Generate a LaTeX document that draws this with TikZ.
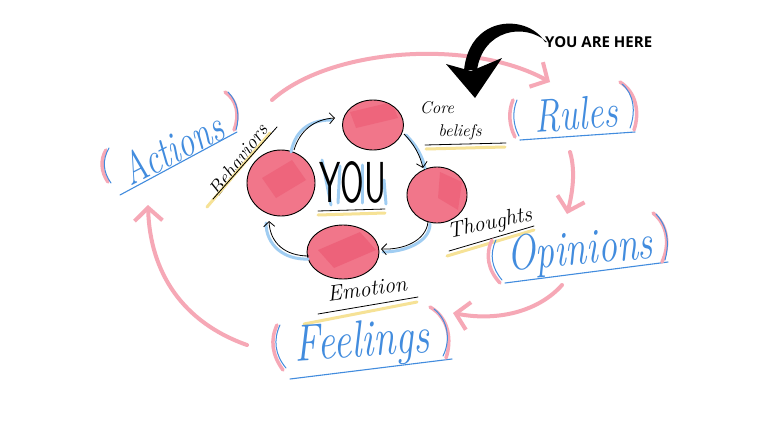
\documentclass[tikz,border=0pt]{standalone}
\usepackage{fontspec}
\newfontfamily\headfont{Open Sans}
\usetikzlibrary{arrows.meta,shapes.geometric}
\definecolor{pinkfill}{RGB}{241,118,138}
\definecolor{pinkdark}{RGB}{232,62,94}
\definecolor{pinkline}{RGB}{246,168,182}
\definecolor{bluehand}{RGB}{66,140,222}
\definecolor{bluelite}{RGB}{160,205,242}
\definecolor{yellowhl}{RGB}{246,226,150}
\begin{document}
\begin{tikzpicture}[x=1pt,y=-1pt,
  ball/.style={ellipse, draw=black, line width=0.9pt, fill=pinkfill, inner sep=0pt},
  pinkarrow/.style={draw=pinkline, line width=4pt, line cap=round, -{Straight Barb[length=13pt,width=28pt,line width=4pt]}},
  innerarrow/.style={draw=black, line width=0.8pt, -{Straight Barb[length=5pt,width=11pt]}},
  glow/.style={draw=bluelite, line width=3pt, line cap=round},
  hl/.style={draw=yellowhl, line width=3pt, line cap=round},
  ul/.style={draw=black, line width=0.8pt, line cap=round},
  bul/.style={draw=bluehand, line width=1.1pt, line cap=round},
  parpink/.style={draw=pinkline, line width=3.5pt, line cap=round},
  parblue/.style={draw=bluehand, line width=1pt, line cap=round},
  bluetext/.style={text=bluehand, inner sep=0pt},
  blacktext/.style={text=black, inner sep=0pt, font=\fontsize{20}{20}\selectfont\itshape}]
\useasboundingbox[fill=white] (0,0) rectangle (768,431);

% ---- circles ----
\node[ball, minimum width=61pt, minimum height=50pt] (core) at (373,125) {};
\node[ball, minimum width=60pt, minimum height=56pt] (thought) at (437,195) {};
\node[ball, minimum width=72pt, minimum height=54pt] (emotion) at (343,252) {};
\node[ball, minimum width=68pt, minimum height=66pt] (behav) at (281,183) {};

% darker patches
\begin{scope}
  \clip (373,125) ellipse [x radius=29pt, y radius=24pt];
  \fill[pinkdark, opacity=0.3] (350,112) -- (392,102) -- (398,118) -- (356,128) -- cycle;
\end{scope}
\begin{scope}
  \clip (437,195) ellipse [x radius=29pt, y radius=27pt];
  \fill[pinkdark, opacity=0.3] (440,172) -- (462,182) -- (458,210) -- (438,198) -- cycle;
\end{scope}
\begin{scope}
  \clip (343,252) ellipse [x radius=35pt, y radius=26pt];
  \fill[pinkdark, opacity=0.35] (318,250) -- (360,232) -- (376,250) -- (334,268) -- cycle;
\end{scope}
\begin{scope}
  \clip (281,183) ellipse [x radius=33pt, y radius=32pt];
  \fill[pinkdark, opacity=0.3] (262,178) -- (292,160) -- (306,180) -- (276,198) -- cycle;
\end{scope}

% ---- inner arrows ----
\coordinate (a1s) at (294,150);
\coordinate (a1e) at (335,118);
\coordinate (a2s) at (404,134);
\coordinate (a2e) at (423,168);
\coordinate (a3s) at (428,222);
\coordinate (a3e) at (381,249);
\coordinate (a4s) at (309,256);
\coordinate (a4e) at (269,221);
\draw[glow] ([shift={(-3,2)}]a1s) .. controls (296,128) and (312,120) .. ([shift={(-4,2)}]a1e);
\draw[innerarrow] (a1s) .. controls (300,130) and (315,119) .. (a1e);
\draw[glow] ([shift={(2,1)}]a2s) .. controls (416,145) and (422,155) .. ([shift={(2,0)}]a2e);
\draw[innerarrow] (a2s) .. controls (414,144) and (420,155) .. (a2e);
\draw[glow] ([shift={(2,2)}]a3s) .. controls (430,242) and (405,252) .. ([shift={(2,3)}]a3e);
\draw[innerarrow] (a3s) .. controls (426,240) and (405,250) .. (a3e);
\draw[glow] ([shift={(-1,3)}]a4s) .. controls (284,260) and (266,245) .. ([shift={(-3,2)}]a4e);
\draw[innerarrow] (a4s) .. controls (285,256) and (270,243) .. (a4e);

% ---- YOU ----
\draw[glow] (322,160) -- (331,205);
\draw[glow] (340,166) -- (338,203);
\draw[glow] (362,165) -- (362,203);
\draw[glow] (384,180) -- (386,204);
\node[text=black, inner sep=0pt] (you) at (353,182) {\scalebox{1}[1.7]{\fontsize{34}{34}\selectfont\sffamily YOU}};
\draw[hl] (318,215) -- (385,213);
\draw[ul] (318,211) -- (385,209);

% ---- black labels ----
\node[blacktext, rotate=53] (behavlabel) at (238,160) {Behaviors};
\draw[hl] (207,207) -- (270,133);
\draw[ul] (213,199) -- (277,127);

\node[blacktext, font=\fontsize{17}{17}\selectfont\itshape] (corelabel) at (437,108) {Core};
\node[blacktext, font=\fontsize{17}{17}\selectfont\itshape] (belieflabel) at (460,132) {beliefs};
\draw[hl] (426,149) -- (505,147);
\draw[ul] (425,145) -- (506,143);

\node[blacktext, font=\fontsize{22}{22}\selectfont\itshape, rotate=12] (thoughtlabel) at (490,224) {Thoughts};
\draw[hl] (447,256) -- (534,230);
\draw[ul] (449,251) -- (534,226);

\node[blacktext, font=\fontsize{22}{22}\selectfont\itshape, rotate=8] (emotionlabel) at (367,289) {Emotion};
\draw[hl] (304,324) -- (417,302);
\draw[ul] (318,314) -- (418,297);

% ---- outer blue labels ----
\node[bluetext, rotate=27] (actions) at (172,148) {\scalebox{1}[1.3]{\fontsize{34}{34}\selectfont\itshape Actions}};
\draw[bul] (120,195) -- (237,132);
\draw[parpink] (106,150) .. controls (100,160) and (101,172) .. (108,182);
\draw[parblue] (109,148) .. controls (102,160) and (103,172) .. (111,183);
\draw[parpink] (225,92) .. controls (237,100) and (240,115) .. (234,130);
\draw[parblue] (228,92) .. controls (238,102) and (240,116) .. (236,130);

\node[bluetext, rotate=4] (rules) at (576,114) {\scalebox{1}[1.3]{\fontsize{36}{36}\selectfont\itshape Rules}};
\draw[bul] (520,140) -- (635,132);
\draw[parpink] (513,100) .. controls (508,112) and (509,125) .. (515,137);
\draw[parblue] (517,100) .. controls (512,112) and (513,125) .. (519,136);
\draw[parpink] (620,82) .. controls (636,92) and (640,112) .. (634,130);
\draw[parblue] (622,84) .. controls (634,94) and (636,112) .. (630,128);

\node[bluetext, rotate=5] (opinions) at (580,252) {\scalebox{1}[1.3]{\fontsize{38}{38}\selectfont\itshape Opinions}};
\draw[bul] (505,283) -- (668,262);
\draw[parpink] (492,240) .. controls (485,255) and (488,270) .. (500,283);
\draw[parblue] (496,240) .. controls (489,255) and (492,268) .. (502,280);
\draw[parpink] (653,213) .. controls (668,225) and (670,245) .. (662,262);
\draw[parblue] (656,214) .. controls (669,228) and (669,246) .. (665,260);

\node[bluetext, rotate=4] (feelings) at (362,344) {\scalebox{1}[1.3]{\fontsize{40}{40}\selectfont\itshape Feelings}};
\draw[bul] (290,379) -- (452,359);
\draw[parpink] (277,325) .. controls (270,340) and (272,355) .. (283,370);
\draw[parblue] (280,325) .. controls (273,340) and (275,355) .. (286,368);
\draw[parpink] (430,307) .. controls (449,318) and (452,340) .. (446,358);
\draw[parblue] (434,309) .. controls (448,320) and (451,340) .. (443,356);

% ---- outer pink arrows ----
\coordinate (p1s) at (272,100);
\coordinate (p1e) at (550,82);
\coordinate (p2s) at (570,152);
\coordinate (p2e) at (567,214);
\coordinate (p3s) at (562,285);
\coordinate (p3e) at (453,313);
\coordinate (p4s) at (247,345);
\coordinate (p4e) at (148,205);
\draw[pinkarrow] (p1s) .. controls (330,48) and (470,38) .. (p1e);
\draw[pinkarrow] (p2s) .. controls (576,172) and (572,195) .. (p2e);
\draw[pinkarrow] (p3s) .. controls (540,310) and (500,322) .. (p3e);
\draw[pinkarrow] (p4s) .. controls (182,322) and (150,272) .. (p4e);

% ---- YOU ARE HERE ----
\node[inner sep=0pt, anchor=west] (here) at (545,42) {\headfont\bfseries\fontsize{15}{15}\selectfont YOU ARE HERE};
\fill[black] (here.west) .. controls (528,14) and (470,14) .. (464,70)
  -- (477,70) .. controls (483,30) and (524,22) .. ([xshift=2pt]here.west) -- cycle;
\fill[black] (446,64) -- (475,98) -- (502,58) -- (471,71) -- cycle;
\end{tikzpicture}
\end{document}
